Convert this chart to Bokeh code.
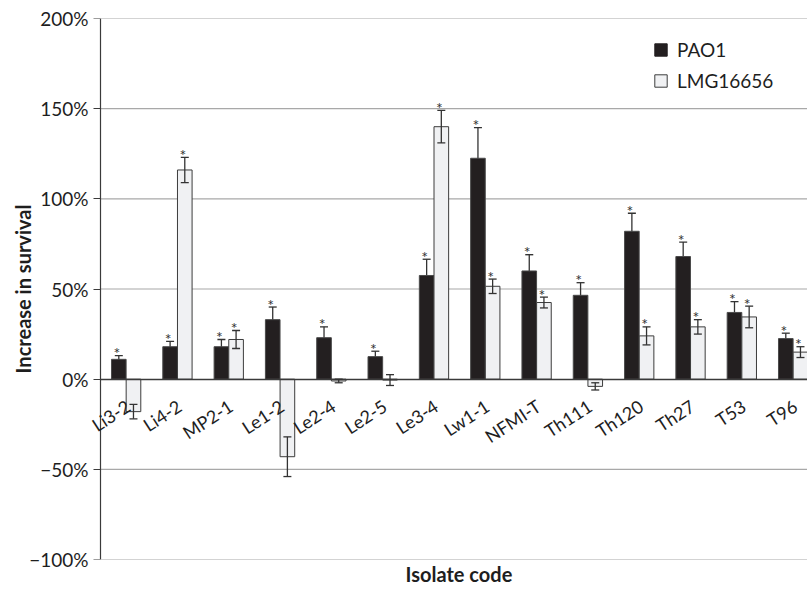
from math import radians

from bokeh.core.properties import value
from bokeh.embed import file_html
from bokeh.models import (ColumnDataSource, FixedTicker, LabelSet, Legend,
                          LegendItem, LinearAxis, Range1d, TeeHead, Title,
                          Whisker)
from bokeh.plotting import figure
from bokeh.resources import INLINE

# Survival increase (%) per isolate, mean and error, for the two reference strains
isolates = ["Li3-2", "Li4-2", "MP2-1", "Le1-2", "Le2-4", "Le2-5", "Le3-4",
            "Lw1-1", "NFMI-T", "Th111", "Th120", "Th27", "T53", "T96"]
pao1 = [11, 18, 18, 33, 23, 12.5, 57.5, 122.5, 60, 46.5, 82, 68, 37, 22.5]
pao1_err = [2, 3, 4, 7, 6, 3, 9, 17, 9, 7, 10, 8, 6, 3]
lmg16656 = [-18, 116, 22, -43, -1, -0.5, 140, 51.5, 42.5, -4, 24, 29, 34.5, 15]
lmg16656_err = [4, 7, 5, 11, 1, 3, 9, 4, 3, 2, 5, 4, 6, 3]
# significance markers (*)
pao1_sig = [True, True, True, True, True, True, True,
            True, True, True, True, True, True, True]
lmg16656_sig = [False, True, True, False, False, False, True,
                True, True, False, True, True, True, True]
y_ticks = [-100, -50, 0, 50, 100, 150, 200]

FONT = "Lato"
INK = "#1e1e1e"
AXIS = "#3a3a3a"
GRID = "#a8a8a8"
DARK_FILL = "#231f20"
LIGHT_FILL = "#f0f1f3"

n = len(isolates)
centers = [i + 0.5 for i in range(n)]
shift = 0.143
bar_w = 0.285
# visible category window: a little room left of the first group for the
# rotated first label, and the last group running off the right edge
x_start, x_end = -0.292, 13.78


def make_source(values, errors, dx):
    xs = [c + dx for c in centers]
    return ColumnDataSource(dict(
        x=xs,
        top=values,
        upper=[v + e for v, e in zip(values, errors)],
        lower=[v - e for v, e in zip(values, errors)],
    ))


def star_source(values, errors, sig, dx):
    xs, ys = [], []
    for c, v, e, s in zip(centers, values, errors, sig):
        if s:
            xs.append(c + dx)
            ys.append(v + e if v >= 0 else v - e)
    return ColumnDataSource(dict(x=xs, y=ys, t=["*"] * len(xs)))


src_pao1 = make_source(pao1, pao1_err, -shift)
src_lmg = make_source(lmg16656, lmg16656_err, shift)

p = figure(width=807, height=596,
           x_range=Range1d(x_start, x_end), y_range=Range1d(-100, 200),
           x_axis_location=None,
           output_backend="svg", toolbar_location=None,
           min_border_left=85, min_border_right=0,
           min_border_top=18, min_border_bottom=37)
p.outline_line_color = None
p.background_fill_color = "white"
p.border_fill_color = "white"
p.xgrid.visible = False
p.ygrid.visible = False

# y axis: tick labels and title on the side panel
ax = p.yaxis[0]
ax.ticker = FixedTicker(ticks=y_ticks)
ax.major_label_overrides = {t: f"{t}%".replace("-", "\u2212") for t in y_ticks}
ax.axis_line_color = None
ax.major_tick_line_color = None
ax.major_tick_out = 0
ax.major_tick_in = 0
ax.minor_tick_line_color = None
ax.major_label_standoff = -3
ax.major_label_text_font = FONT
ax.major_label_text_font_size = "19px"
ax.major_label_text_color = INK
ax.axis_label = "Increase in survival"
ax.axis_label_text_font = FONT
ax.axis_label_text_font_size = "20px"
ax.axis_label_text_font_style = "bold"
ax.axis_label_text_color = INK
ax.axis_label_standoff = -9

# y axis rule and tick marks at the start of the first group
yrule = LinearAxis(fixed_location=0)
yrule.ticker = FixedTicker(ticks=y_ticks)
yrule.major_label_overrides = {t: "" for t in y_ticks}
yrule.axis_line_color = AXIS
yrule.axis_line_width = 1.2
yrule.major_tick_line_color = AXIS
yrule.major_tick_line_width = 1.2
yrule.major_tick_out = 7
yrule.major_tick_in = 0
yrule.minor_tick_line_color = None
p.add_layout(yrule, "left")

# zero line across the groups
xax = LinearAxis(fixed_location=0, bounds=(0, x_end))
xax.ticker = FixedTicker(ticks=[])
xax.axis_line_color = AXIS
xax.axis_line_width = 1.3
xax.major_tick_line_color = None
xax.minor_tick_line_color = None
p.add_layout(xax, "below")

# horizontal gridlines from the y axis to the right edge
grid_vals = [t for t in y_ticks if t != 0]
p.segment(x0=[0] * len(grid_vals), x1=[x_end] * len(grid_vals),
          y0=grid_vals, y1=grid_vals, line_color=GRID, line_width=1.2,
          level="underlay")

# PAO1 error bars sit under the dark bars so only the upper arm shows
p.add_layout(Whisker(
    base="x", upper="upper", lower="lower", source=src_pao1, dimension="height",
    line_color="#333333", line_width=1.3, level="underlay",
    upper_head=TeeHead(size=8, line_color="#333333", line_width=1.3),
    lower_head=TeeHead(size=8, line_color="#333333", line_width=1.3),
))

r_pao1 = p.vbar(x="x", top="top", bottom=0, width=bar_w, source=src_pao1,
                fill_color=DARK_FILL, line_color="#4a4a4a", line_width=1)
r_lmg = p.vbar(x="x", top="top", bottom=0, width=bar_w, source=src_lmg,
               fill_color=LIGHT_FILL, line_color="#3c3c3c", line_width=1)

p.add_layout(Whisker(
    base="x", upper="upper", lower="lower", source=src_lmg, dimension="height",
    line_color="#333333", line_width=1.3, level="annotation",
    upper_head=TeeHead(size=8, line_color="#333333", line_width=1.3),
    lower_head=TeeHead(size=8, line_color="#333333", line_width=1.3),
))

# significance asterisks
for vals, errs, sig, dx in ((pao1, pao1_err, pao1_sig, -shift),
                            (lmg16656, lmg16656_err, lmg16656_sig, shift)):
    p.text(x="x", y="y", text="t", source=star_source(vals, errs, sig, dx),
           text_align="center", text_baseline="alphabetic",
           x_offset=-2, y_offset=-3,
           text_font=value(FONT), text_font_size="16px", text_color="#333333")

# isolate codes, rotated, ending just below the zero line
label_src = ColumnDataSource(dict(x=centers, y=[0] * n, name=isolates))
p.add_layout(LabelSet(x="x", y="y", text="name", source=label_src,
                      angle=radians(33), text_align="right",
                      text_baseline="middle", x_offset=2, y_offset=-25,
                      text_font=value(FONT), text_font_size="18px",
                      text_color=INK))

# legend swatches (zero-size markers; the legend draws its own square)
sw_pao1 = p.scatter(x="x", y="top", source=src_pao1, marker="square", size=0,
                    fill_color=DARK_FILL, line_color=DARK_FILL)
sw_lmg = p.scatter(x="x", y="top", source=src_lmg, marker="square", size=0,
                   fill_color=LIGHT_FILL, line_color="#3c3c3c", line_width=1)

legend = Legend(items=[LegendItem(label="PAO1", renderers=[sw_pao1]),
                       LegendItem(label="LMG16656", renderers=[sw_lmg])],
                location=(559, 463), orientation="vertical",
                margin=0, padding=0, spacing=0,
                glyph_width=33, glyph_height=31,
                label_height=31, label_standoff=-4,
                label_text_font=FONT, label_text_font_size="19px",
                label_text_color=INK,
                border_line_color=None, background_fill_alpha=0)
p.add_layout(legend)

p.add_layout(Title(text="Isolate code", align="left", offset=320,
                   vertical_align="bottom", standoff=0,
                   text_font=FONT, text_font_size="20px",
                   text_font_style="bold", text_color=INK), "below")

open("out.html", "w").write(file_html(p, INLINE))
